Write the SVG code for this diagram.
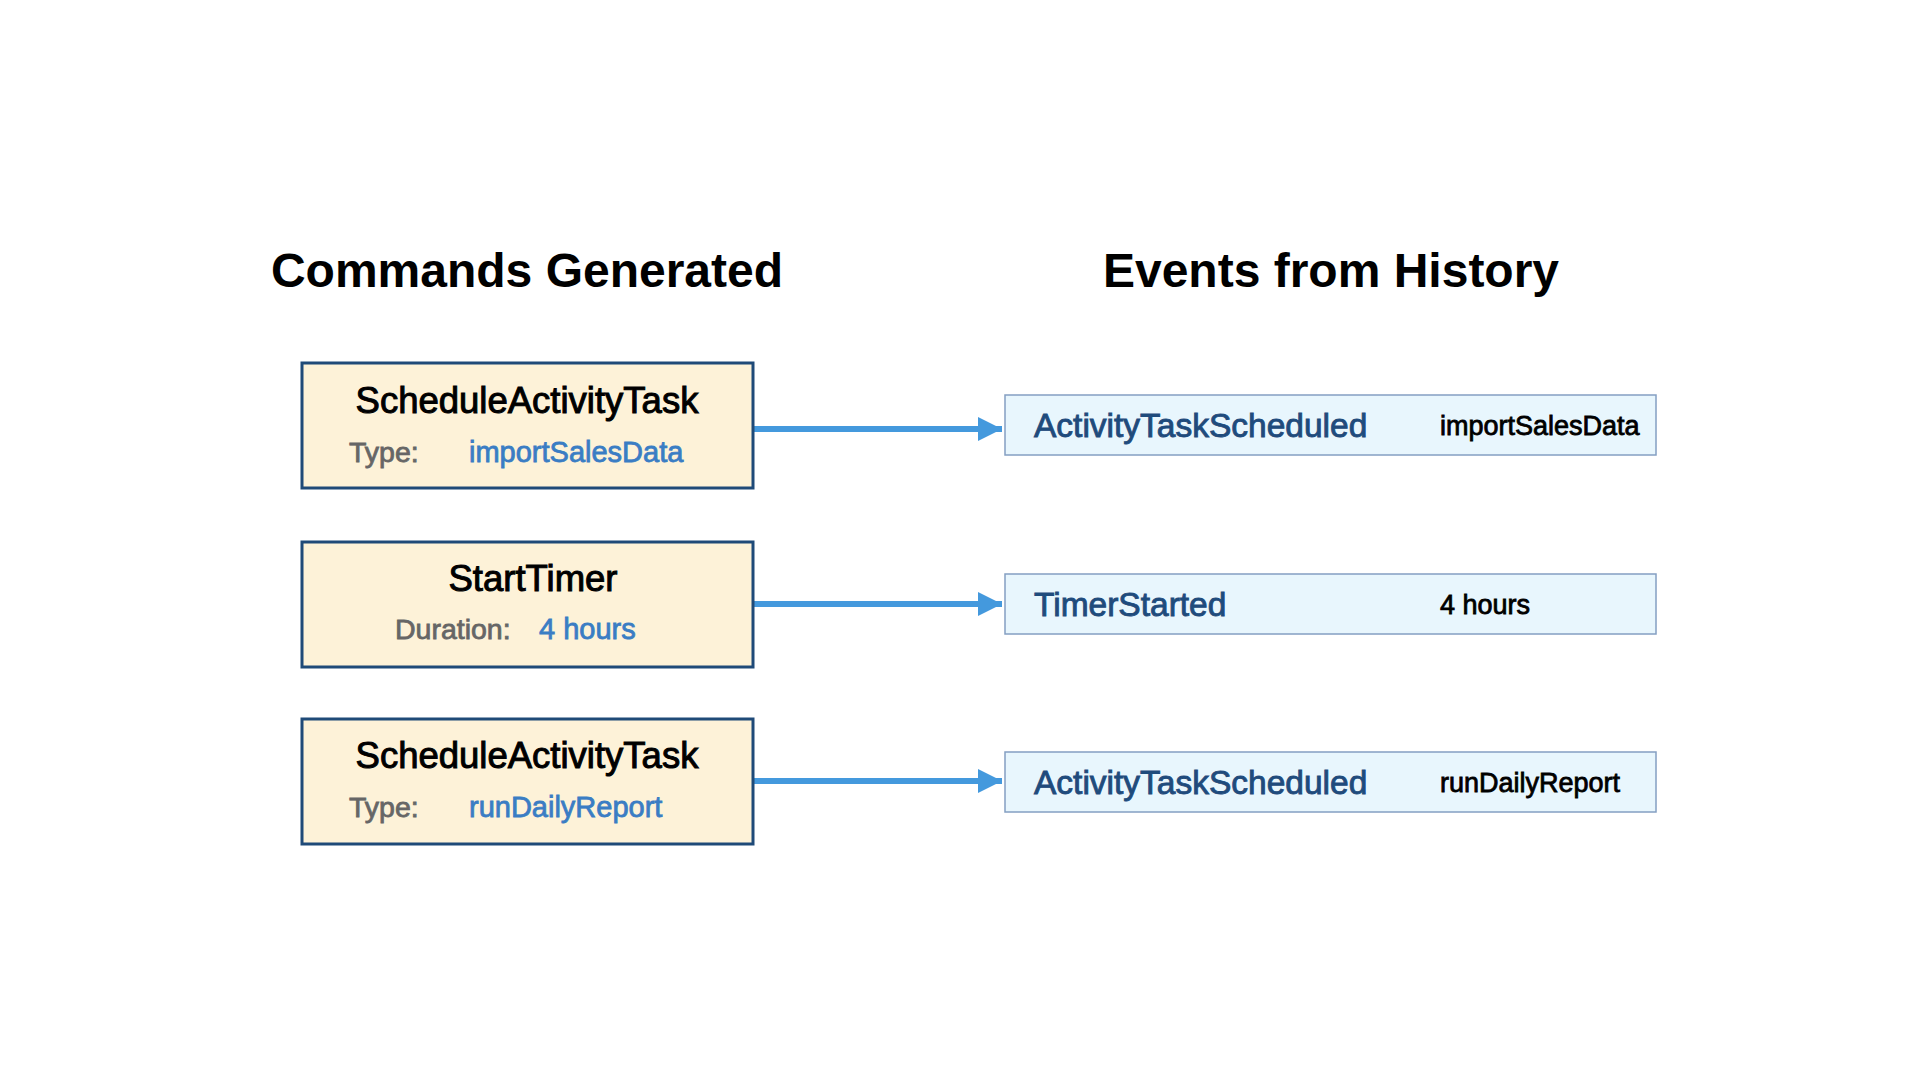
<svg xmlns="http://www.w3.org/2000/svg" width="1920" height="1080" viewBox="0 0 1920 1080">
<defs>
<style>
.title{font-family:"Liberation Sans",Arial,sans-serif;font-weight:bold;font-size:48px;fill:#000;text-anchor:middle}
.cmd{fill:#fdf2d8;stroke:#1f4a78;stroke-width:3}
.cmdname{font-family:"Liberation Sans",Arial,sans-serif;font-size:36.5px;fill:#000;stroke:#000;stroke-width:1;text-anchor:middle}
.lbl{font-family:"Liberation Sans",Arial,sans-serif;font-size:28.5px;fill:#666;stroke:#666;stroke-width:0.8}
.val{font-family:"Liberation Sans",Arial,sans-serif;font-size:29px;fill:#3a7dc4;stroke:#3a7dc4;stroke-width:0.8}
.evt{fill:#e8f6fd;stroke:#849fc2;stroke-width:1.5}
.evtname{font-family:"Liberation Sans",Arial,sans-serif;font-size:33.5px;fill:#1f4b7c;stroke:#1f4b7c;stroke-width:0.9}
.evtval{font-family:"Liberation Sans",Arial,sans-serif;font-size:27px;fill:#000;stroke:#000;stroke-width:0.8}
.conn{stroke:#4499dd;stroke-width:6;fill:none}
</style>
<marker id="ah" markerUnits="userSpaceOnUse" markerWidth="26" markerHeight="26" refX="24" refY="12" orient="auto">
<path d="M0,0 L24,12 L0,24 Z" fill="#4499dd"/>
</marker>
</defs>
<rect width="1920" height="1080" fill="#fff"/>
<g id="titles">
<text class="title" x="527" y="287">Commands Generated</text>
<text class="title" x="1331" y="287">Events from History</text>
</g>
<g id="connectors">
<line class="conn" x1="753" y1="429" x2="1002" y2="429" marker-end="url(#ah)"/>
<line class="conn" x1="753" y1="604" x2="1002" y2="604" marker-end="url(#ah)"/>
<line class="conn" x1="753" y1="781" x2="1002" y2="781" marker-end="url(#ah)"/>
</g>
<g id="cmd1">
<rect class="cmd" x="302" y="363" width="451" height="125"/>
<text class="cmdname" x="527" y="413">ScheduleActivityTask</text>
<text class="lbl" x="349" y="462">Type:</text>
<text class="val" x="469" y="462">importSalesData</text>
</g>
<g id="cmd2">
<rect class="cmd" x="302" y="542" width="451" height="125"/>
<text class="cmdname" x="533" y="591">StartTimer</text>
<text class="lbl" x="395" y="639">Duration:</text>
<text class="val" x="539" y="639">4 hours</text>
</g>
<g id="cmd3">
<rect class="cmd" x="302" y="719" width="451" height="125"/>
<text class="cmdname" x="527" y="768">ScheduleActivityTask</text>
<text class="lbl" x="349" y="817">Type:</text>
<text class="val" x="469" y="817">runDailyReport</text>
</g>
<g id="evt1">
<rect class="evt" x="1005" y="395" width="651" height="60"/>
<text class="evtname" x="1034" y="437">ActivityTaskScheduled</text>
<text class="evtval" x="1440" y="435">importSalesData</text>
</g>
<g id="evt2">
<rect class="evt" x="1005" y="574" width="651" height="60"/>
<text class="evtname" x="1034" y="616">TimerStarted</text>
<text class="evtval" x="1440" y="614">4 hours</text>
</g>
<g id="evt3">
<rect class="evt" x="1005" y="752" width="651" height="60"/>
<text class="evtname" x="1034" y="794">ActivityTaskScheduled</text>
<text class="evtval" x="1440" y="792">runDailyReport</text>
</g>
</svg>
